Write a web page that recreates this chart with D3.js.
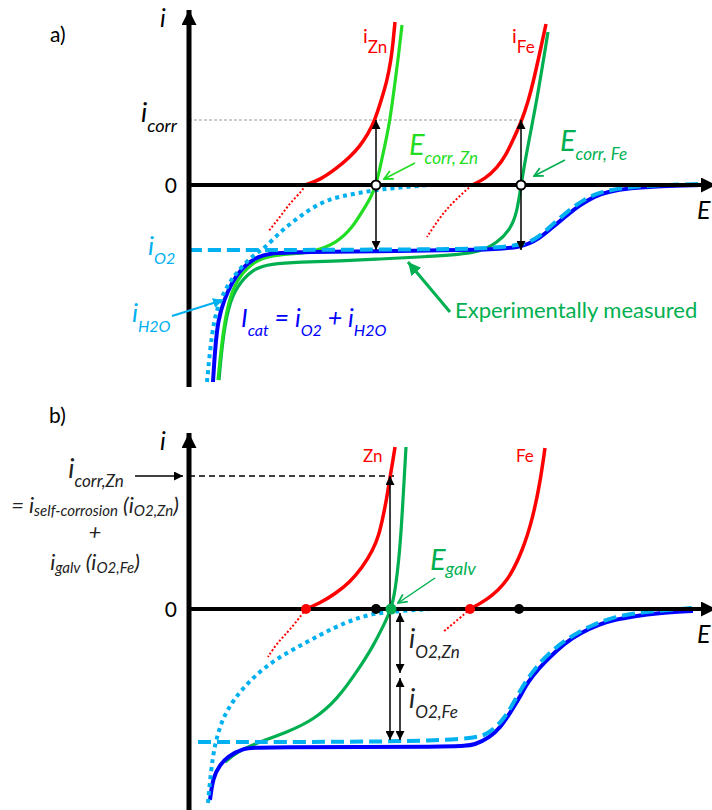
<!DOCTYPE html>
<html>
<head>
<meta charset="utf-8">
<script src="https://cdn.jsdelivr.net/npm/d3@7"></script>
<style>
  body { margin: 0; background: #fff; }
  text { font-family: Lato, "Open Sans", sans-serif; white-space: pre; }
</style>
</head>
<body>
<script>
// ---- panel a data (E, i) ----
var znAnodicA = [[1.16,0],[1.31,0.1],[1.48,0.34],[1.61,0.56],[1.71,0.78],[1.79,1.02],[1.86,1.3],[1.92,1.68],[1.98,2.08],[2.02,2.5],[2.04,2.84],[2.06,3.26]];
var znCathodicA = [[1.16,0],[1.14,-0.1],[1.01,-0.36],[0.91,-0.64],[0.79,-0.94]];
var feAnodicA = [[2.83,0],[2.96,0.12],[3.08,0.34],[3.17,0.6],[3.25,0.94],[3.33,1.3],[3.39,1.66],[3.44,2.04],[3.51,2.66],[3.57,3.22]];
var feCathodicA = [[2.83,0],[2.64,-0.34],[2.51,-0.64],[2.38,-1.04]];
var znMixedA = [[2.13,3.2],[2.09,2.5],[2.05,1.9],[2.01,1.3],[1.96,0.8],[1.91,0.34],[1.87,0],[1.82,-0.24],[1.76,-0.44],[1.64,-0.84],[1.48,-1.16],[1.24,-1.34],[1.01,-1.38],[0.81,-1.42],[0.66,-1.52],[0.51,-1.8],[0.41,-2.2],[0.34,-2.9],[0.29,-3.9]];
var feMeasuredA = [[3.59,3.06],[3.48,1.7],[3.38,0.7],[3.32,0],[3.28,-0.56],[3.21,-0.9],[3.08,-1.16],[2.91,-1.34],[2.64,-1.4],[2.31,-1.44],[1.91,-1.48],[1.51,-1.52],[1.11,-1.54],[0.81,-1.58],[0.66,-1.66],[0.51,-1.94],[0.41,-2.3],[0.34,-3.0],[0.30,-3.9]];
var iCatA = [[0.24,-3.94],[0.26,-3.3],[0.29,-2.7],[0.35,-2.3],[0.43,-1.94],[0.53,-1.66],[0.66,-1.46],[0.79,-1.36],[1.11,-1.34],[2.11,-1.32],[2.91,-1.3],[3.33,-1.26],[3.51,-1.06],[3.64,-0.84],[3.78,-0.6],[3.91,-0.4],[4.06,-0.22],[4.18,-0.14],[4.41,-0.06],[4.71,-0.02],[5.11,0]];
var iO2A = [[0.0,-1.3],[1.0,-1.3],[2.0,-1.29],[3.31,-1.28],[3.51,-1.02],[3.64,-0.78],[3.78,-0.54],[3.91,-0.34],[4.06,-0.18],[4.21,-0.1],[4.41,-0.04],[4.71,0],[5.11,0.02]];
var iH2OA = [[0.18,-3.94],[0.21,-3.3],[0.25,-2.7],[0.31,-2.3],[0.40,-1.96],[0.48,-1.74],[0.64,-1.4],[0.76,-1.26],[0.91,-0.94],[1.06,-0.7],[1.24,-0.44],[1.41,-0.28],[1.58,-0.2],[1.91,-0.08],[2.41,0]];
var ecorrA = [1.87, 3.32];
var icorrA = 1.3;
var iO2LimA = -1.3;

// ---- panel b data (E, i) ----
var znAnodicB = [[1.17,0],[1.31,0.12],[1.46,0.3],[1.61,0.54],[1.73,0.82],[1.84,1.18],[1.90,1.48],[1.94,1.84],[1.98,2.24],[2.01,2.64],[2.04,2.98],[2.06,3.24]];
var znCathodicB = [[1.17,0],[1.01,-0.42],[0.88,-0.68],[0.79,-0.96]];
var feAnodicB = [[2.81,0],[2.98,0.18],[3.18,0.52],[3.34,1.18],[3.44,1.84],[3.51,2.52],[3.56,3.22]];
var feCathodicB = [[2.81,0],[2.71,-0.18],[2.54,-0.46]];
var coupleB = [[2.17,3.24],[2.14,2.18],[2.11,1.18],[2.06,0.32],[2.02,0],[1.95,-0.32],[1.83,-0.78],[1.71,-1.16],[1.48,-1.82],[1.24,-2.22],[1.01,-2.44],[0.68,-2.68],[0.49,-2.84],[0.36,-3.06]];
var iCatB = [[0.21,-3.82],[0.24,-3.36],[0.31,-3.12],[0.38,-2.96],[0.54,-2.78],[0.71,-2.76],[2.71,-2.76],[2.86,-2.72],[3.01,-2.56],[3.11,-2.38],[3.21,-2.08],[3.31,-1.76],[3.38,-1.48],[3.51,-1.16],[3.61,-0.96],[3.76,-0.68],[3.91,-0.48],[4.11,-0.3],[4.24,-0.22],[4.46,-0.14],[4.68,-0.08],[5.04,-0.04]];
var iO2B = [[0.09,-2.66],[2.81,-2.66],[3.01,-2.48],[3.16,-2.18],[3.26,-1.82],[3.36,-1.46],[3.51,-1.06],[3.66,-0.78],[3.81,-0.56],[4.01,-0.34],[4.21,-0.18],[4.51,-0.06],[5.04,0.02]];
var iH2OB = [[0.19,-3.88],[0.22,-3.22],[0.26,-2.68],[0.33,-2.22],[0.44,-1.82],[0.64,-1.36],[0.88,-0.98],[1.18,-0.66],[1.44,-0.38],[1.68,-0.18],[1.91,-0.06],[2.44,0]];
var ocpB = [1.17, 2.81];
var ecorrB = [1.87, 3.30];
var egalvB = 2.02;
var icorrZnB = 2.66;
var splitB = [[-0.08,-1.28],[-1.38,-2.62]];

var RED = "#ff0000", LGREEN = "#22dd22", DGREEN = "#00b050", BLUE = "#0000ff", LBLUE = "#00b0f0";

var svg = d3.select("body").append("svg").attr("width", 712).attr("height", 810);
var defs = svg.append("defs");

function marker(id, color, w, h, open) {
    var m = defs.append("marker").attr("id", id).attr("viewBox", "0 0 10 10")
        .attr("refX", open ? 9 : 10).attr("refY", 5).attr("markerUnits", "userSpaceOnUse")
        .attr("markerWidth", w).attr("markerHeight", h).attr("orient", "auto-start-reverse");
    if (open) {
        m.append("path").attr("d", "M1,1 L9,5 L1,9").attr("fill", "none").attr("stroke", color).attr("stroke-width", 1.6);
    } else {
        m.append("path").attr("d", "M0,0 L10,5 L0,10 z").attr("fill", color);
    }
}
marker("axisHead", "#000", 16, 15);
marker("blk", "#000", 9, 9);
marker("lgOpen", LGREEN, 11, 11, true);
marker("dgOpen", DGREEN, 11, 11, true);
marker("lbHead", LBLUE, 10, 10);
marker("dgHead", DGREEN, 13, 13);

var x = d3.scaleLinear().domain([0, 5.27]).range([189, 716]);
var yA = d3.scaleLinear().domain([-4, 3.5]).range([385, 10]);
var yB = d3.scaleLinear().domain([-4, 3.5]).range([809, 434]);

function curve(g, y, data, color, width, dash) {
    var line = d3.line().x(function (d) { return x(d[0]); }).y(function (d) { return y(d[1]); })
        .curve(d3.curveBasis);
    var p = g.append("path").datum(data).attr("d", line).attr("fill", "none")
        .attr("stroke", color).attr("stroke-width", width).attr("stroke-linejoin", "round");
    if (dash) p.attr("stroke-dasharray", dash);
    return p;
}

function arrow(g, x1, y1, x2, y2, color, width, mk, both) {
    var l = g.append("line").attr("x1", x1).attr("y1", y1).attr("x2", x2).attr("y2", y2)
        .attr("stroke", color).attr("stroke-width", width).attr("marker-end", "url(#" + mk + ")");
    if (both) l.attr("marker-start", "url(#" + mk + ")");
    return l;
}

// text with subscripts: parts = [[text, isSub], ...]
function rich(g, px, py, parts, size, subSize, drop, color, italic, anchor) {
    var t = g.append("text").attr("x", px).attr("y", py).attr("fill", color)
        .style("font-size", size + "px").style("font-style", italic ? "italic" : "normal")
        .attr("text-anchor", anchor || "start");
    var shift = 0;
    parts.forEach(function (p) {
        var target = p[1] ? drop : 0;
        t.append("tspan").attr("dy", target - shift).style("font-size", (p[1] ? subSize : size) + "px").text(p[0]);
        shift = target;
    });
    return t;
}

function axes(g, y, top, bottom) {
    g.append("line").attr("x1", x(0)).attr("x2", x(0)).attr("y1", y(bottom)).attr("y2", y(top))
        .attr("stroke", "#000").attr("stroke-width", 5).attr("marker-end", "url(#axisHead)");
    g.append("line").attr("x1", x(0)).attr("x2", x(5.27)).attr("y1", y(0)).attr("y2", y(0))
        .attr("stroke", "#000").attr("stroke-width", 4).attr("marker-end", "url(#axisHead)");
    g.append("text").attr("x", x(0) - 12).attr("y", y(0) + 8).attr("text-anchor", "end")
        .style("font-size", "21px").text("0");
    g.append("text").attr("x", 160).attr("y", y(top) + 17).style("font-size", "25px").style("font-style", "italic").text("i");
    g.append("text").attr("x", 697).attr("y", y(0) + 34).style("font-size", "25px").style("font-style", "italic").text("E");
}

// ================= panel a =================
var ga = svg.append("g");
ga.append("text").attr("x", 50).attr("y", 42).style("font-size", "21px").text("a)");

ga.append("line").attr("x1", x(0)).attr("x2", x(ecorrA[1])).attr("y1", yA(icorrA)).attr("y2", yA(icorrA))
    .attr("stroke", "#999").attr("stroke-width", 1).attr("stroke-dasharray", "3,2");

curve(ga, yA, feMeasuredA, DGREEN, 3.2);
curve(ga, yA, znMixedA, LGREEN, 3.2);
curve(ga, yA, iCatA, BLUE, 4);
curve(ga, yA, iO2A, LBLUE, 4, "13,6");
curve(ga, yA, iH2OA, LBLUE, 4, "4,4");
curve(ga, yA, znCathodicA, RED, 2, "2,2");
curve(ga, yA, feCathodicA, RED, 2, "2,2");
curve(ga, yA, znAnodicA, RED, 3.5);
curve(ga, yA, feAnodicA, RED, 3.5);

axes(ga, yA, 3.5, -4.04);

ecorrA.forEach(function (e) {
    arrow(ga, x(e), yA(0), x(e), yA(icorrA), "#000", 1.5, "blk");
    arrow(ga, x(e), yA(0), x(e), yA(iO2LimA), "#000", 1.5, "blk");
});
ga.selectAll("circle.ecorr").data(ecorrA).enter().append("circle").attr("class", "ecorr")
    .attr("cx", function (d) { return x(d); }).attr("cy", yA(0)).attr("r", 4.5)
    .attr("fill", "#fff").attr("stroke", "#000").attr("stroke-width", 2);

rich(ga, 141, 122, [["i", 0], ["corr", 1]], 27, 18, 10, "#000", true);
rich(ga, 363, 43, [["i", 0], ["Zn", 1]], 20, 17, 10, RED, false);
rich(ga, 512, 43, [["i", 0], ["Fe", 1]], 20, 17, 10, RED, false);
rich(ga, 409, 155, [["E", 0], ["corr, Zn", 1]], 29, 17, 9, LGREEN, true);
arrow(ga, 415, 163, x(ecorrA[0]) + 8, yA(0) - 6, LGREEN, 1.5, "lgOpen");
rich(ga, 560, 151, [["E", 0], ["corr, Fe", 1]], 29, 17, 9, DGREEN, true);
arrow(ga, 565, 160, x(ecorrA[1]) + 13, yA(0) - 9, DGREEN, 1.5, "dgOpen");

rich(ga, 148, 255, [["i", 0], ["O2", 1]], 26, 16, 9, LBLUE, true);
rich(ga, 132, 322, [["i", 0], ["H2O", 1]], 26, 16, 10, LBLUE, true);
arrow(ga, 172, 316, 223, 300, LBLUE, 2, "lbHead");

rich(ga, 241, 327, [["I", 0], ["cat", 1], [" = i", 0], ["O2", 1], [" + i", 0], ["H2O", 1]], 25, 16, 9, BLUE, true);

ga.append("text").attr("x", 455).attr("y", 318).attr("fill", DGREEN).style("font-size", "22px").text("Experimentally measured");
arrow(ga, 450, 312, 408, 262, DGREEN, 3, "dgHead");

// ================= panel b =================
var gb = svg.append("g");
gb.append("text").attr("x", 49).attr("y", 423).style("font-size", "21px").text("b)");

gb.append("line").attr("x1", x(0)).attr("x2", x(2.05)).attr("y1", yB(icorrZnB)).attr("y2", yB(icorrZnB))
    .attr("stroke", "#000").attr("stroke-width", 1.3).attr("stroke-dasharray", "6,4");

curve(gb, yB, coupleB, DGREEN, 3.2);
curve(gb, yB, iCatB, BLUE, 4);
curve(gb, yB, iO2B, LBLUE, 4, "13,6");
curve(gb, yB, iH2OB, LBLUE, 4, "4,4");
curve(gb, yB, znCathodicB, RED, 2, "2,2");
curve(gb, yB, feCathodicB, RED, 2, "2,2");
curve(gb, yB, znAnodicB, RED, 3.5);
curve(gb, yB, feAnodicB, RED, 3.5);

axes(gb, yB, 3.52, -4.04);

arrow(gb, x(egalvB) - 1, yB(0), x(egalvB) - 1, yB(icorrZnB), "#000", 1.5, "blk");
arrow(gb, x(egalvB) - 1, yB(0), x(egalvB) - 1, yB(-2.62), "#000", 1.5, "blk");
splitB.forEach(function (s) {
    arrow(gb, x(2.11), yB(s[0]), x(2.11), yB(s[1]), "#000", 1.5, "blk", true);
});

gb.selectAll("circle.ocp").data(ocpB).enter().append("circle").attr("class", "ocp")
    .attr("cx", function (d) { return x(d); }).attr("cy", yB(0)).attr("r", 5).attr("fill", RED);
gb.selectAll("circle.ecorr").data(ecorrB).enter().append("circle").attr("class", "ecorr")
    .attr("cx", function (d) { return x(d); }).attr("cy", yB(0)).attr("r", 5).attr("fill", "#000");
gb.append("circle").attr("cx", x(egalvB)).attr("cy", yB(0)).attr("r", 5.5).attr("fill", DGREEN);

gb.append("text").attr("x", 363).attr("y", 462).attr("fill", RED).style("font-size", "17px").text("Zn");
gb.append("text").attr("x", 516).attr("y", 462).attr("fill", RED).style("font-size", "17px").text("Fe");

rich(gb, 430, 570, [["E", 0], ["galv", 1]], 29, 18, 5, DGREEN, true);
arrow(gb, 435, 578, x(egalvB) + 7, yB(0) - 6, DGREEN, 1.5, "dgOpen");

rich(gb, 409, 648, [["i", 0], ["O2,Zn", 1]], 27, 17, 10, "#222", true);
rich(gb, 409, 708, [["i", 0], ["O2,Fe", 1]], 27, 17, 10, "#222", true);

// left hand explanation
rich(gb, 96, 478, [["i", 0], ["corr,Zn", 1]], 27, 17, 9, "#222", true, "middle");
arrow(gb, 135, yB(icorrZnB), 183, yB(icorrZnB), "#000", 1.5, "blk");
rich(gb, 95, 513, [["= i", 0], ["self-corrosion", 1], [" (i", 0], ["O2,Zn", 1], [")", 0]], 22, 15, 3, "#222", true, "middle");
gb.append("text").attr("x", 95).attr("y", 540).attr("text-anchor", "middle").attr("fill", "#222")
    .style("font-size", "22px").style("font-style", "italic").text("+");
rich(gb, 95, 570, [["i", 0], ["galv", 1], [" (i", 0], ["O2,Fe", 1], [")", 0]], 22, 15, 3, "#222", true, "middle");
</script>
</body>
</html>
